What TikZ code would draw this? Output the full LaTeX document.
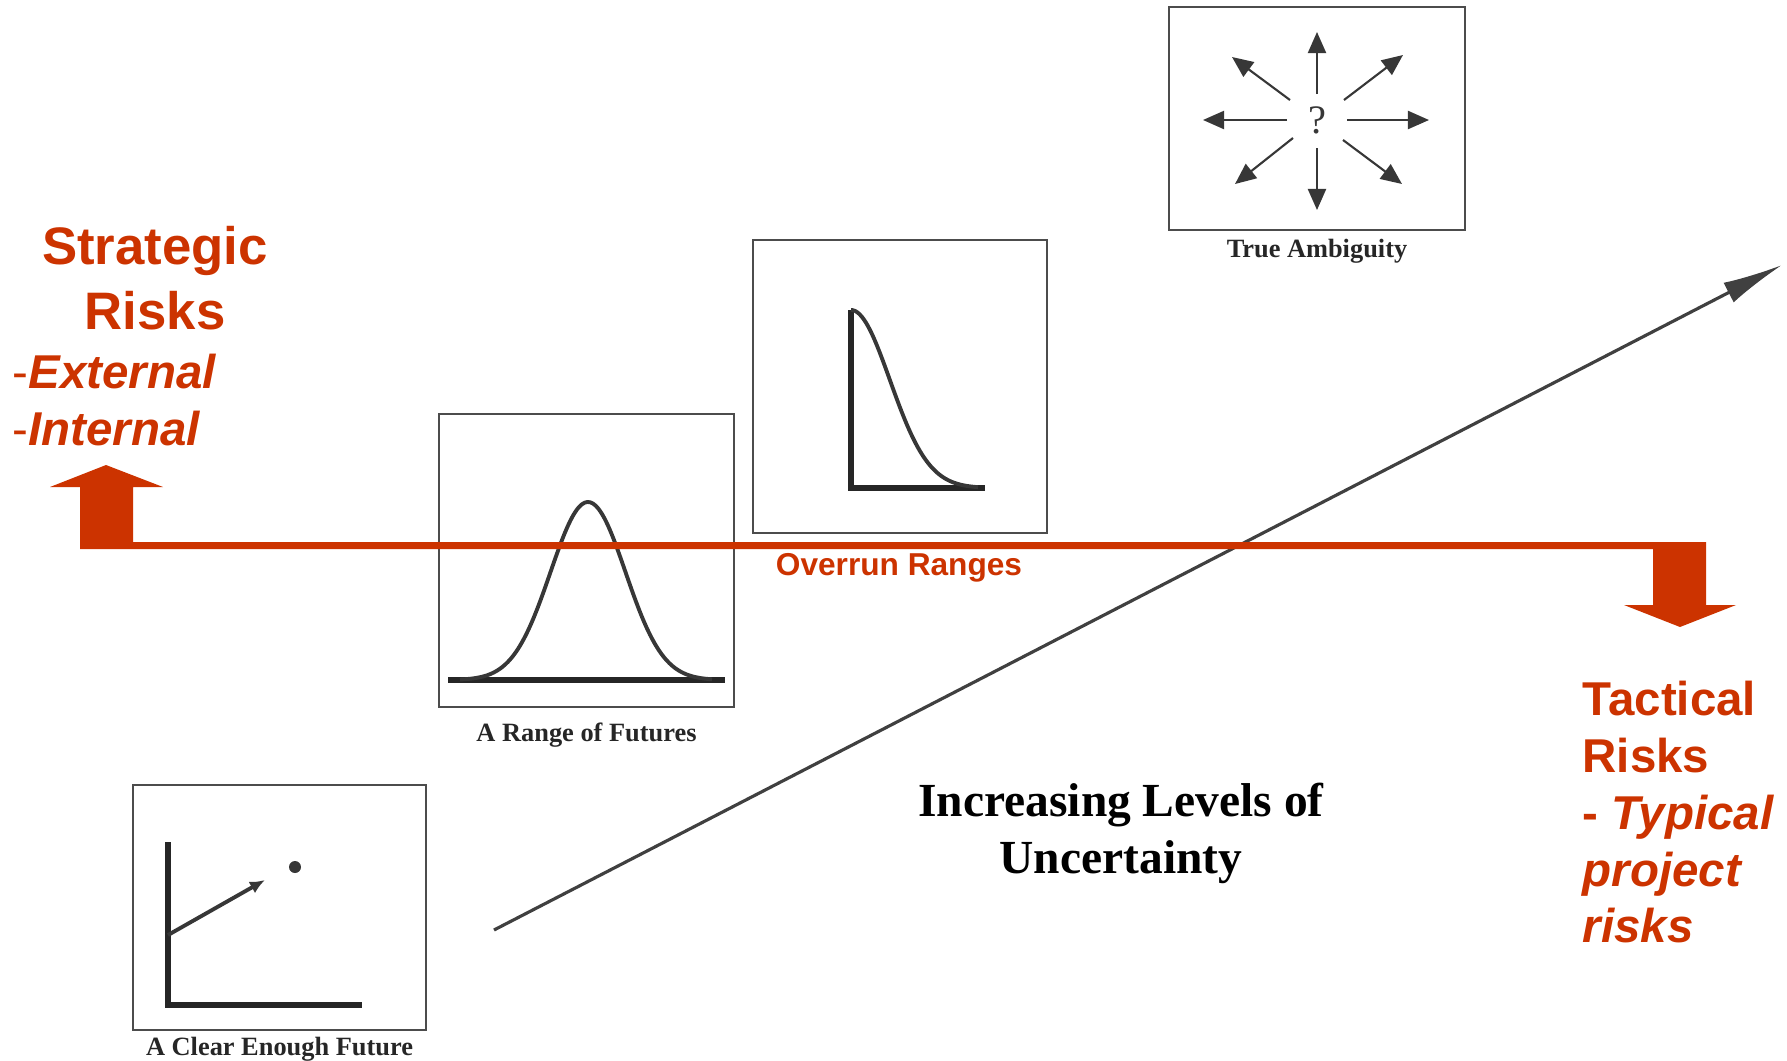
\documentclass[tikz,border=0pt]{standalone}
\usepackage{fontspec}
\setmainfont{Liberation Serif}
\newfontfamily\riskfont{Liberation Sans}
\usetikzlibrary{arrows.meta, positioning}
\definecolor{riskred}{RGB}{204,51,0}
\definecolor{scan}{RGB}{55,55,55}

\begin{document}
\begin{tikzpicture}[x=0.01cm, y=-0.01cm,
    panel/.style={draw=black!70, line width=0.6pt, inner sep=0pt},
    caption/.style={font=\bfseries\fontsize{7.5}{9}\selectfont, text=black!85, inner sep=0pt},
    sketch/.style={scan, line width=1.1pt},
    axis/.style={black!85, line width=1.5pt},
    amb/.style={scan, line width=0.6pt, -{Triangle[length=2.1mm, width=1.8mm]}},
    riskhead/.style={text=riskred, font=\riskfont\bfseries\fontsize{15}{18.5}\selectfont, inner sep=0pt, align=center},
    risklist/.style={text=riskred, font=\riskfont\bfseries\fontsize{13.5}{16.2}\selectfont, inner sep=0pt, align=left}]
  \useasboundingbox (0,0) rectangle (1787,1060);

  % Snapshots of the future, growing in uncertainty
  \node[panel, minimum width=2.93cm, minimum height=2.45cm] (clear) at (279.5,907.5) {};
  \node[panel, minimum width=2.95cm, minimum height=2.93cm] (range) at (586.5,560.5) {};
  \node[panel, minimum width=2.94cm, minimum height=2.93cm] (overrun) at (900,386.5) {};
  \node[panel, minimum width=2.96cm, minimum height=2.23cm] (ambig) at (1317,118.5) {};
  \node[caption, below=1.5pt of clear] (clearcap) {A Clear Enough Future};
  \node[caption, below=4pt of range] (rangecap) {A Range of Futures};
  \node[caption, below=2pt of ambig] (ambigcap) {True Ambiguity};

  % clear enough future: one point
  \draw[axis] (168,842) -- (168,1005) -- (362,1005);
  \draw[sketch, -{Latex[length=1.5mm, width=1.3mm]}] (168,935) -- (265,880);
  \fill[scan] (295,867) circle (6);

  % range of futures: bell curve
  \draw[axis] (448,680) -- (725,680);
  \draw[sketch, domain=460:712, samples=90, smooth]
    plot (\x, {680-178*exp(-((\x-588)/53)^2)});

  % overrun ranges: half curve
  \draw[axis] (851,310) -- (851,488) -- (985,488);
  \draw[sketch, domain=851:978, samples=60, smooth]
    plot (\x, {488-178*exp(-((\x-851)/55)^2)});

  % true ambiguity: arrows in all directions
  \node[font=\fontsize{11.5}{12}\selectfont, text=scan, inner sep=0pt] (q) at (1317,120) {?};
  \foreach \sx/\sy/\ex/\ey in {30/0/112/0, -30/0/-114/0, 0/-26/0/-88, 0/28/0/90,
                               27/-20/86/-65, -27/-20/-85/-63, 26/20/85/64, -24/18/-82/64}
    \draw[amb] ([shift={(\sx,\sy)}]q.center) -- ([shift={(\ex,\ey)}]q.center);

  % rising uncertainty
  \coordinate (low) at (494,930);
  \coordinate (high) at (1782,265);
  \draw[black!75, line width=0.9pt, -{Latex[length=6mm, width=2.2mm]}] (low) -- (high);
  \node[font=\bfseries\fontsize{13.5}{16.2}\selectfont, align=center, inner sep=0pt, anchor=north]
    (incr) at (1121,782) {Increasing Levels of\\Uncertainty};

  % strategic / tactical divide
  \fill[riskred] (80,549) -- (80,487) -- (50,487) -- (106,465) -- (163,487) -- (133,487)
    -- (133,542) -- (1706,542) -- (1706,605) -- (1736,605) -- (1680,627) -- (1624,605)
    -- (1653,605) -- (1653,549) -- cycle;
  \node[text=riskred, font=\riskfont\bfseries\fontsize{9}{11}\selectfont, inner sep=0pt, anchor=base]
    (ovr) at (899,575) {Overrun Ranges};

  \node[riskhead, anchor=north] (strat) at (155,226) {Strategic\\Risks};
  \node[risklist, anchor=north west] (stratlist) at (12,353)
    {{\mdseries -}\textit{External}\\{\mdseries -}\textit{Internal}};
  \node[risklist, anchor=north west] (tact) at (1582,680)
    {Tactical\\Risks\\- \textit{Typical}\\\textit{project}\\\textit{risks}};
\end{tikzpicture}
\end{document}
